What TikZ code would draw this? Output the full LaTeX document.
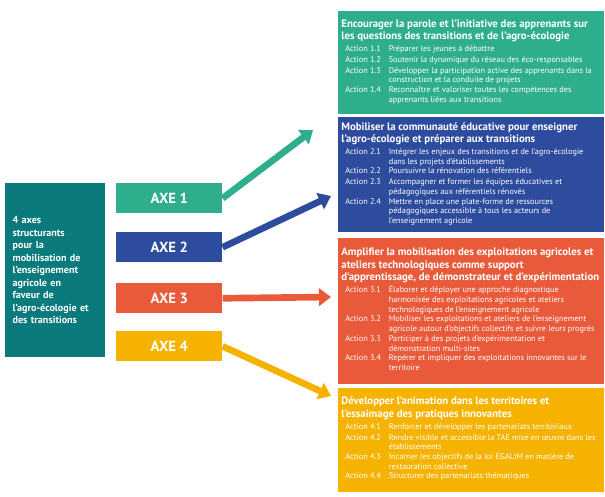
\documentclass[tikz,border=0pt]{standalone}
\usepackage{fontspec}
\usepackage{array}
\setmainfont{PT Sans}
\usetikzlibrary{arrows.meta,positioning}
\definecolor{axeA}{HTML}{2EAE8C}
\definecolor{axeB}{HTML}{2D4C9E}
\definecolor{axeC}{HTML}{E85A3A}
\definecolor{axeD}{HTML}{F5B300}
\definecolor{leftteal}{HTML}{0A7A7C}
\newcommand{\actrow}[2]{Action #1 & #2\\[0.8pt]}
\newcommand{\axetext}[2]{\parbox{194pt}{\raggedright\fontsize{8.1}{9.4}\selectfont\bfseries #1\par\vspace{1pt}
  \fontsize{6.2}{7.3}\selectfont\mdseries
  \begin{tabular}{@{\hspace{3pt}}l@{\hspace{6pt}}>{\raggedright\arraybackslash}p{155pt}@{}}#2\end{tabular}}}
\begin{document}
\begin{tikzpicture}[x=0.75pt,y=-0.75pt,
    axebox/.style={draw=white,line width=0.6pt,anchor=north west,minimum width=199.5pt,inner xsep=3pt,inner ysep=3.5pt,text=white,align=left},
    axelabel/.style={anchor=north west,minimum width=79.5pt,minimum height=22.5pt,inner sep=0pt,text=white,font=\fontsize{11}{12}\selectfont\bfseries},
    axearrow/.style={line width=5pt,-{Triangle[length=9pt,width=13pt]}}]
    \useasboundingbox (0,0) rectangle (605,496);
    \node (intro) [anchor=north west,fill=leftteal,minimum width=75pt,minimum height=130.5pt,text width=64pt,inner xsep=4pt,text=white,align=left,font=\fontsize{7.6}{9.4}\selectfont\bfseries] at (5,183)
        {4 axes\\structurants\\pour la\\mobilisation de\\l’enseignement\\agricole en\\faveur de\\l’agro-écologie et\\des transitions};

    \node (axe1) [axelabel,fill=axeA] at (116,183) {AXE 1};
    \node (axe2) [axelabel,fill=axeB] at (116,232) {AXE 2};
    \node (axe3) [axelabel,fill=axeC] at (116,283) {AXE 3};
    \node (axe4) [axelabel,fill=axeD] at (116,331) {AXE 4};

    \node (box1) [axebox,fill=axeA,minimum height=78pt] at (337,10) {\axetext
        {Encourager la parole et l’initiative des apprenants sur les questions des transitions et de l’agro-écologie}
        {\actrow{1.1}{Préparer les jeunes à débattre}
         \actrow{1.2}{Soutenir la dynamique du réseau des éco-responsables}
         \actrow{1.3}{Développer la participation active des apprenants dans la construction et la conduite de projets}
         \actrow{1.4}{Reconnaître et valoriser toutes les compétences des apprenants liées aux transitions}}};
    \node (box2) [axebox,fill=axeB,minimum height=87pt] at (337,116) {\axetext
        {Mobiliser la communauté éducative pour enseigner l’agro-écologie et préparer aux transitions}
        {\actrow{2.1}{Intégrer les enjeux des transitions et de l’agro-écologie dans les projets d’établissements}
         \actrow{2.2}{Poursuivre la rénovation des référentiels}
         \actrow{2.3}{Accompagner et former les équipes éducatives et pédagogiques aux référentiels rénovés}
         \actrow{2.4}{Mettre en place une plate-forme de ressources pédagogiques accessible à tous les acteurs de l’enseignement agricole}}};
    \node (box3) [axebox,fill=axeC,minimum height=110pt] at (337,237) {\axetext
        {Amplifier la mobilisation des exploitations agricoles et ateliers technologiques comme support d’apprentissage, de démonstrateur et d’expérimentation}
        {\actrow{3.1}{Élaborer et déployer une approche diagnostique harmonisée des exploitations agricoles et ateliers technologiques de l’enseignement agricole}
         \actrow{3.2}{Mobiliser les exploitations et ateliers de l’enseignement agricole autour d’objectifs collectifs et suivre leurs progrès}
         \actrow{3.3}{Participer à des projets d’expérimentation et démonstration multi-sites}
         \actrow{3.4}{Repérer et impliquer des exploitations innovantes sur le territoire}}};
    \node (box4) [axebox,fill=axeD,minimum height=79pt] at (337,387) {\axetext
        {Développer l’animation dans les territoires et l’essaimage des pratiques innovantes}
        {\actrow{4.1}{Renforcer et développer les partenariats territoriaux}
         \actrow{4.2}{Rendre visible et accessible la TAE mise en œuvre dans les établissements}
         \actrow{4.3}{Incarner les objectifs de la loi EGALIM en matière de restauration collective}
         \actrow{4.4}{Structurer des partenariats thématiques}}};

    \coordinate (end1) at (313,130);
    \coordinate (end2) at (331,196);
    \coordinate (end3) at (331,297);
    \coordinate (end4) at (331,396);
    \draw[axearrow,draw=axeA,fill=axeA] (axe1.east) -- (end1);
    \draw[axearrow,draw=axeB,fill=axeB] (axe2.east) -- (end2);
    \draw[axearrow,draw=axeC,fill=axeC] (axe3.east) -- (end3);
    \draw[axearrow,draw=axeD,fill=axeD] (axe4.east) -- (end4);
\end{tikzpicture}
\end{document}
